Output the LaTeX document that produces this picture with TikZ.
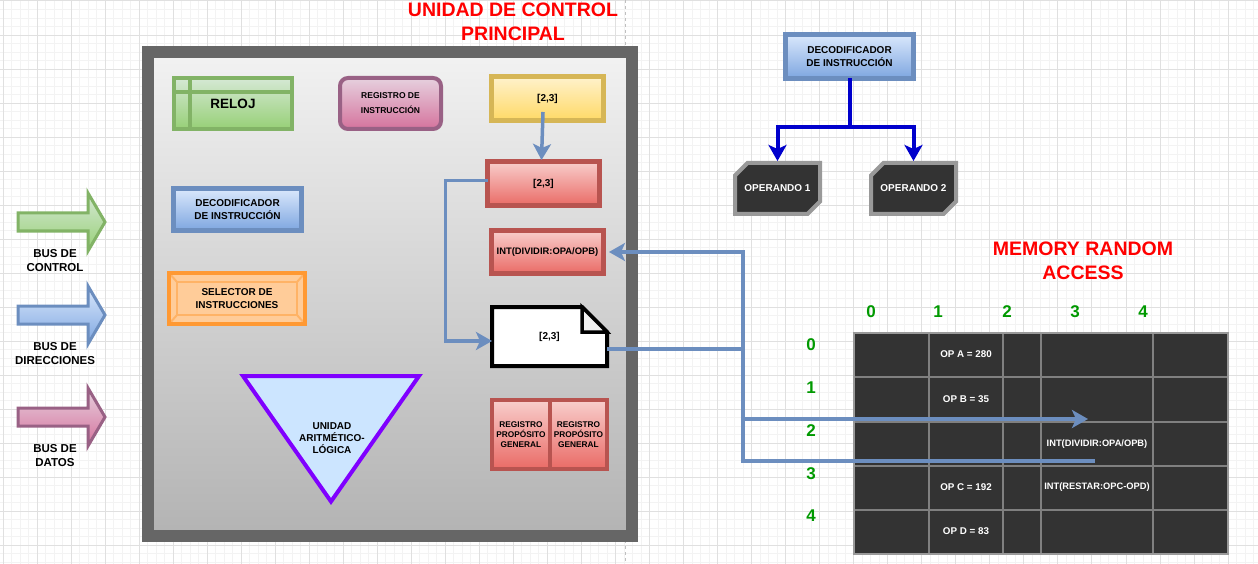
\documentclass[tikz,border=0pt]{standalone}
\usepackage{fontspec}
\setmainfont{Liberation Sans}
\usetikzlibrary{arrows.meta,shapes.misc}

\definecolor{frameGray}{HTML}{666666}
\definecolor{ucTop}{HTML}{F2F2F2}
\definecolor{ucBot}{HTML}{B3B3B3}
\definecolor{greenLine}{HTML}{82B366}
\definecolor{greenTop}{HTML}{D5E8D4}
\definecolor{greenBot}{HTML}{97D077}
\definecolor{pinkLine}{HTML}{996185}
\definecolor{pinkTop}{HTML}{E6D0DE}
\definecolor{pinkBot}{HTML}{D5739D}
\definecolor{yellowLine}{HTML}{D6B656}
\definecolor{yellowTop}{HTML}{FFF2CC}
\definecolor{yellowBot}{HTML}{FFD966}
\definecolor{redLine}{HTML}{B85450}
\definecolor{redTop}{HTML}{F8CECC}
\definecolor{redBot}{HTML}{EA6B66}
\definecolor{blueLine}{HTML}{6C8EBF}
\definecolor{blueTop}{HTML}{DAE8FC}
\definecolor{blueBot}{HTML}{7EA6E0}
\definecolor{orangeLine}{HTML}{FF9933}
\definecolor{orangeFill}{HTML}{FFCC99}
\definecolor{orangeInner}{HTML}{FFB366}
\definecolor{aluLine}{HTML}{7F00FF}
\definecolor{aluFill}{HTML}{CCE5FF}
\definecolor{treeBlue}{HTML}{0000CC}
\definecolor{tblFill}{HTML}{333333}
\definecolor{tblLine}{HTML}{808080}
\definecolor{operLine}{HTML}{999999}
\definecolor{foldGray}{HTML}{F0F0F0}
\definecolor{titleRed}{HTML}{FF0000}
\definecolor{idxGreen}{HTML}{009900}
\definecolor{gridMinor}{HTML}{F3F3F3}
\definecolor{gridMajor}{HTML}{E0E0E0}

\tikzset{
  fnt/.style 2 args={font=\fontsize{#1}{#2}\selectfont\bfseries},
  blk/.style={draw, line width=4pt, inner sep=0pt, outer sep=0pt, align=center},
  title/.style={text=titleRed, align=center, fnt={19.5}{24}},
  cell/.style={text=white, fnt={9.8}{11}},
  link/.style={draw=blueLine, line width=3.5pt},
  tree/.style={draw=treeBlue, line width=4pt}
}

\begin{document}
\begin{tikzpicture}[x=1pt,y=-1pt,>={Stealth[length=16pt,width=18pt,inset=4pt]}]
\useasboundingbox (0,0) rectangle (1258,564);
\fill[white] (0,0) rectangle (1258,564);
% grid of the page
\foreach \i in {0,...,147}
  \draw[gridMinor, line width=1pt] ({3+8.5075*\i},0) -- ({3+8.5075*\i},564);
\foreach \i in {0,...,66}
  \draw[gridMinor, line width=1pt] (0,{1+8.5075*\i}) -- (1258,{1+8.5075*\i});
\foreach \i in {0,...,36}
  \draw[gridMajor, line width=1pt] ({3+34.03*\i},0) -- ({3+34.03*\i},564);
\foreach \i in {0,...,16}
  \draw[gridMajor, line width=1pt] (0,{1+34.03*\i}) -- (1258,{1+34.03*\i});
\draw[gray!50, dash pattern=on 3pt off 3pt] (625,0) -- (625,564);

% unidad de control
\node[draw=frameGray, line width=12pt, outer sep=0pt, top color=ucTop, bottom color=ucBot,
  minimum width=484pt, minimum height=484pt] (ucp) at (390,294) {};
\node[title] (ucpTitle) at (513,22) {UNIDAD DE CONTROL\\PRINCIPAL};

\node[blk, draw=greenLine, top color=greenTop, bottom color=greenBot,
  minimum width=118pt, minimum height=51pt, fnt={13.5}{16}] (reloj) at (233,103.5) {RELOJ};
\draw[greenLine, line width=4pt] ([xshift=16pt]reloj.north west) -- ([xshift=16pt]reloj.south west);
\draw[greenLine, line width=4pt] ([yshift=-14.5pt]reloj.north west) -- ([yshift=-14.5pt]reloj.north east);

\node[blk, rounded corners=8pt, draw=pinkLine, top color=pinkTop, bottom color=pinkBot,
  minimum width=101pt, minimum height=51pt, fnt={8.5}{15}] (regInst) at (390.5,103.5) {REGISTRO DE\\INSTRUCCIÓN};

\node[blk, line width=5pt, draw=yellowLine, top color=yellowTop, bottom color=yellowBot,
  minimum width=112pt, minimum height=44pt, fnt={10}{12}] (ir) at (547.5,98.5) {[2,3]};
\node[blk, line width=5pt, draw=redLine, top color=redTop, bottom color=redBot,
  minimum width=112pt, minimum height=44pt, fnt={10}{12}] (mar) at (543.5,183.5) {[2,3]};
\node[blk, line width=5pt, draw=redLine, top color=redTop, bottom color=redBot,
  minimum width=112pt, minimum height=43pt, fnt={9.4}{11}] (opBox) at (547.5,252) {INT(DIVIDIR:OPA/OPB)};

\node[blk, line width=5pt, draw=blueLine, top color=blueTop, bottom color=blueBot,
  minimum width=128pt, minimum height=42pt, fnt={10}{12.5}] (dec) at (237.5,209.5) {DECODIFICADOR\\DE INSTRUCCIÓN};

\node[blk, draw=orangeLine, fill=orangeFill,
  minimum width=136pt, minimum height=51pt, fnt={10}{12.5}] (sel) at (237,298.5) {};
\draw[orangeInner, line width=2pt] ([shift={(8pt,-9pt)}]sel.north west) rectangle ([shift={(-8pt,9pt)}]sel.south east);
\draw[orangeInner, line width=2pt] (sel.north west) -- ([shift={(8pt,-9pt)}]sel.north west);
\draw[orangeInner, line width=2pt] (sel.north east) -- ([shift={(-8pt,-9pt)}]sel.north east);
\draw[orangeInner, line width=2pt] (sel.south west) -- ([shift={(8pt,9pt)}]sel.south west);
\draw[orangeInner, line width=2pt] (sel.south east) -- ([shift={(-8pt,9pt)}]sel.south east);
\draw[orangeLine, line width=4pt] (sel.north west) rectangle (sel.south east);
\node[align=center, fnt={10}{12.5}] (selText) at (sel.center) {SELECTOR DE\\INSTRUCCIONES};

% unidad aritmetico-logica
\draw[aluLine, fill=aluFill, line width=4pt, line join=miter] (243,376) -- (419,376) -- (331,501.5) -- cycle;
\node[align=center, fnt={10}{12}] (alu) at (332,438) {UNIDAD\\ARITMÉTICO-\\LÓGICA};

% nota [2,3]
\draw[black, fill=white, line width=4pt, line join=miter] (492,307) -- (582,307) -- (607,332) -- (607,366) -- (492,366) -- cycle;
\draw[black, fill=foldGray, line width=3.5pt] (582,307) -- (582,332) -- (607,332) -- cycle;
\node[inner sep=0pt, outer sep=0pt, minimum width=115pt, minimum height=59pt, fnt={10}{12}] (note) at (549.5,336.5) {[2,3]};

\node[blk, draw=redLine, top color=redTop, bottom color=redBot,
  minimum width=58pt, minimum height=69pt, fnt={8.3}{10}] (gprA) at (521,434.5) {REGISTRO\\PROPÓSITO\\GENERAL};
\node[blk, draw=redLine, top color=redTop, bottom color=redBot,
  minimum width=57pt, minimum height=69pt, fnt={8.3}{10}] (gprB) at (578.5,434.5) {REGISTRO\\PROPÓSITO\\GENERAL};

% buses
\foreach \y/\sc/\ta/\tb/\lb in {222/greenLine/greenTop/greenBot/CONTROL,
    315/blueLine/blueTop/blueBot/DIRECCIONES, 417/pinkLine/pinkTop/pinkBot/DATOS}{
  \draw[draw=\sc, top color=\ta, bottom color=\tb, line width=3pt, line join=miter]
    (18,\y-9) -- (88,\y-9) -- (88,\y-29) -- (105,\y) -- (88,\y+29) -- (88,\y+9) -- (18,\y+9) -- cycle;
  \node[align=center, fnt={11.5}{14}] (bus\lb) at (55,\y+39) {BUS DE\\\lb};
}

% decodificador y operandos
\node[blk, line width=5pt, draw=blueLine, top color=blueTop, bottom color=blueBot,
  minimum width=128pt, minimum height=44pt, fnt={10}{13}] (decodeTop) at (849.5,56.5) {DECODIFICADOR\\DE INSTRUCCIÓN};
\node[chamfered rectangle, chamfered rectangle corners={north west,south east}, chamfered rectangle sep=9pt,
  draw=operLine, fill=tblFill, line width=4pt, inner sep=0pt, outer sep=0pt,
  minimum width=85pt, minimum height=51pt, text=white, fnt={10}{12}] (opnd1) at (777.5,188.5) {OPERANDO 1};
\node[chamfered rectangle, chamfered rectangle corners={north west,south east}, chamfered rectangle sep=9pt,
  draw=operLine, fill=tblFill, line width=4pt, inner sep=0pt, outer sep=0pt,
  minimum width=85pt, minimum height=51pt, text=white, fnt={10}{12}] (opnd2) at (913.5,188.5) {OPERANDO 2};
\draw[tree,->,shorten >=2pt] (decodeTop.south) -- ++(0,48.5) -| (opnd1.north);
\draw[tree,->,shorten >=2pt] (decodeTop.south) -- ++(0,48.5) -| (opnd2.north);

% memoria
\node[title] (memTitle) at (1083,261) {MEMORY RANDOM\\ACCESS};
\fill[tblFill] (854,333) rectangle (1228,554);
\foreach \x in {929,1003,1041,1153}
  \draw[tblLine, line width=1.5pt] (\x,333) -- (\x,554);
\foreach \y in {377,422,466,510}
  \draw[tblLine, line width=1.5pt] (854,\y) -- (1228,\y);
\draw[operLine, line width=1.5pt] (854,333) rectangle (1228,554);
\foreach \x/\n in {871/0,938/1,1007/2,1075/3,1143/4}
  \node[text=idxGreen, fnt={17}{20}] (col\n) at (\x,312) {\n};
\foreach \y/\n in {345/0,388/1,431/2,474/3,516/4}
  \node[text=idxGreen, fnt={17}{20}] (row\n) at (811,\y) {\n};
\node[cell] (opA) at (966,354) {OP A = 280};
\node[cell] (opB) at (966,399) {OP B = 35};
\node[cell, fnt={9.3}{11}] (divCell) at (1097,444) {INT(DIVIDIR:OPA/OPB)};
\node[cell] (opC) at (966,487) {OP C = 192};
\node[cell, fnt={9.3}{11}] (resCell) at (1097,487) {INT(RESTAR:OPC-OPD)};
\node[cell] (opD) at (966,531) {OP D = 83};

% conexiones
\coordinate (hub) at (743,349);
\coordinate (memIn) at (1088,419);
\coordinate (memOut) at (1095,461);
\draw[link,->] ([shift={(-4.5pt,-13.5pt)}]ir.center) -- ([xshift=-2pt,yshift=1.5pt]mar.north);
\draw[link,->] ([yshift=3pt]mar.west) -- ++(-42,0) |- ([yshift=-4.5pt]note.west);
\draw[link] ([yshift=-12.5pt]note.east) -- (hub);
\draw[link,->] (hub) |- ([xshift=5.5pt]opBox.east);
\draw[link,->] (hub) |- (memIn);
\draw[link] (hub) |- (memOut);
\end{tikzpicture}
\end{document}
